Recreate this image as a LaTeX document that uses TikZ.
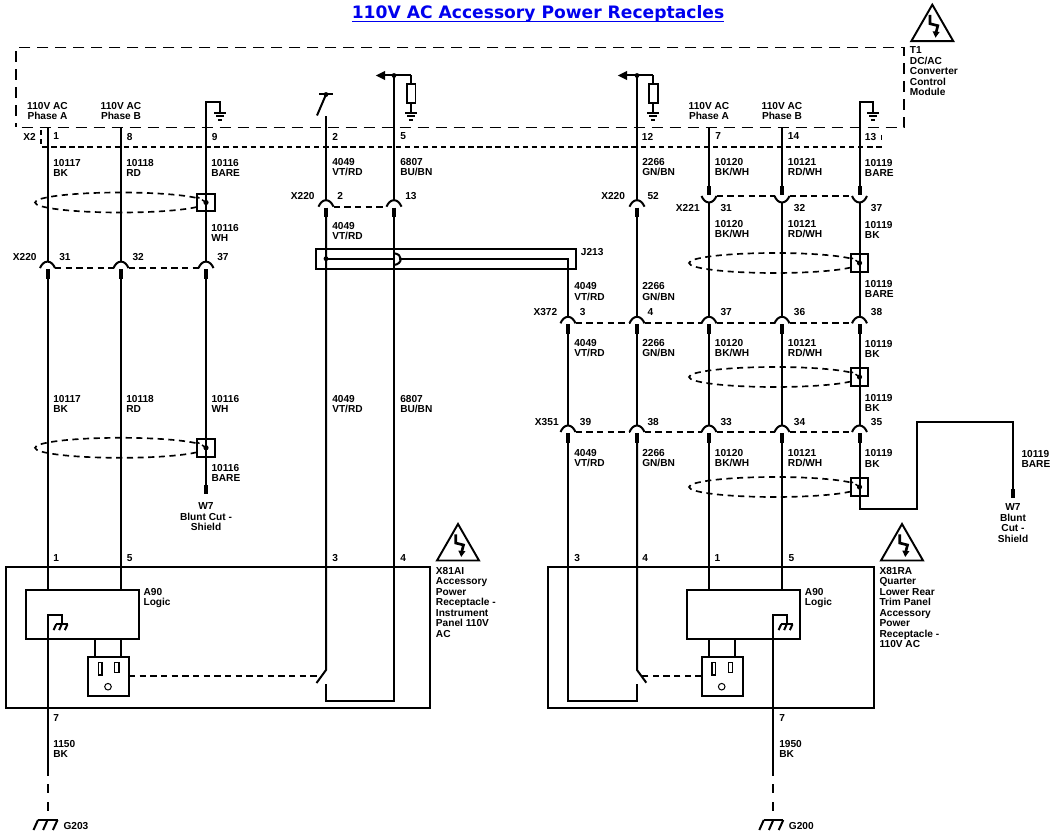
\documentclass[tikz,border=0pt]{standalone}
\usepackage{fontspec}
\setmainfont{Liberation Sans}
\newfontfamily\headfont{DejaVu Sans}
\usetikzlibrary{arrows.meta}
\definecolor{linkblue}{RGB}{0,0,238}
\tikzset{
  every pic/.style={yscale=-1},
  wire/.style={line width=1.5pt},
  stub/.style={line width=3pt},
  boxline/.style={line width=1.45pt},
  module/.style={line width=1.4pt,dash pattern=on 8.2pt off 5.3pt},
  tiedash/.style={line width=1.4pt,dash pattern=on 4.8pt off 3.2pt},
  rowdash/.style={line width=1.3pt,dash pattern=on 4pt off 2.8pt},
  shieldline/.style={line width=1.25pt,dash pattern=on 4.6pt off 3.4pt},
  knot/.style={draw,line width=1.45pt,fill=white,minimum size=13.2pt,inner sep=0pt},
  lbl/.style={anchor=north west,inner sep=0pt,align=left,font=\bfseries\fontsize{7.6}{7.85}\selectfont},
  lblc/.style={lbl,anchor=north,align=center},
  sockup/.pic={
    \draw[wire] (-7.5,0) .. controls (-6,-3.5) and (-3.5,-6.5) .. (0,-6.5) .. controls (3.5,-6.5) and (6,-3.5) .. (7.5,0);
    \draw[stub] (0,1) -- (0,10.5);
    \coordinate (-top) at (0,-6.5);
    \coordinate (-low) at (0,10);
    \coordinate (-w) at (-7.5,0);
    \coordinate (-e) at (7.5,0);
  },
  sockdown/.pic={
    \draw[wire] (-7.5,0) .. controls (-6,3.5) and (-3.5,6.5) .. (0,6.5) .. controls (3.5,6.5) and (6,3.5) .. (7.5,0);
    \draw[stub] (0,-9.5) -- (0,-0.5);
    \coordinate (-top) at (0,-9);
    \coordinate (-low) at (0,6.5);
    \coordinate (-w) at (-7.5,0);
    \coordinate (-e) at (7.5,0);
  },
  earth/.pic={
    \draw[wire] (-6,0) -- (6,0);
    \draw[wire] (-4,3.7) -- (4,3.7);
    \draw[wire] (-2,7.3) -- (2,7.3);
  },
  chassis/.pic={
    \draw[wire] (-9.5,0) -- (10,0);
    \draw[wire] (-9.5,0) -- (-14,10);
    \draw[wire] (0,0) -- (-4.4,10);
    \draw[wire] (10,0) -- (5.4,10);
  },
  warn/.pic={
    \draw[boxline,line join=miter] (0,0) -- (21,36.5) -- (-21,36.5) -- cycle;
    \draw[line width=2pt,-{Triangle[length=4.6pt,width=5pt]}] (-2.3,10.3) -- (-2.3,19) -- (5.5,21) -- (3.7,28) -- (3.2,33);
  },
  outlet/.pic={
    \draw[boxline] (0,0) rectangle (41,39.6);
    \draw[line width=.95pt] (10.3,6) rectangle (14,18.3);
    \draw[line width=.95pt] (26.6,6) rectangle (31,15.8);
    \draw[line width=.75pt] (20,30) circle (3.3);
  },
  knotmark/.pic={
    \draw[line width=1.1pt] (-8.5,-5.5) -- (-6.5,-4.2);
    \draw[line width=1.1pt] (-4,-2.8) -- (-1.5,-1);
    \fill (0,0) circle (2.6);
  }
}
\begin{document}
\begin{tikzpicture}[x=0.75pt,y=0.75pt,yscale=-1,xscale=1]
\useasboundingbox (0,0) rectangle (1052,837);

% Title
\node (title) [anchor=base,inner sep=0pt,text=linkblue,font=\headfont\bfseries\fontsize{12.85}{14}\selectfont] at (538,19) {\underline{\smash{110V AC Accessory Power Receptacles}}};

% Module outline
\coordinate (modA) at (21.7,127.5);
\coordinate (modB) at (904,127.5);
\coordinate (modC) at (904,47.5);
\coordinate (modD) at (16,47.5);
\coordinate (modE) at (16,127);
\draw[module] (modA) -- (modB) -- (modC) -- (modD) -- (modE);
\coordinate (rowA) at (41,130);
\coordinate (rowB) at (41,147);
\coordinate (rowC) at (882.7,147);
\coordinate (rowD) at (881.7,135);
\coordinate (rowE) at (881.7,140.5);
\draw[rowdash] (rowA) -- (rowB) -- (rowC);
\draw[line width=1.1pt] (rowD) -- (rowE);

% Shields
\draw[shieldline] (120.5,202.5) ellipse (85.5 and 10);
\draw[shieldline] (120.5,447.8) ellipse (85.5 and 10);
\draw[shieldline] (774.5,263) ellipse (85.5 and 10);
\draw[shieldline] (774.5,377) ellipse (85.5 and 10);
\draw[shieldline] (774.5,487) ellipse (85.5 and 10);
\node (kA) [knot] at (206,202.5) {};
\node (kB) [knot] at (206,447.8) {};
\node (kC) [knot] at (859.5,263) {};
\node (kD) [knot] at (859.5,377) {};
\node (kE) [knot] at (859.5,487) {};
\pic at (kA) {knotmark};
\pic at (kB) {knotmark};
\pic at (kC) {knotmark};
\pic at (kD) {knotmark};
\pic at (kE) {knotmark};

% Inline connectors
\pic (xaA) at (47.5,268.1) {sockup};
\pic (xaB) at (121,268.1) {sockup};
\pic (xaC) at (206,268.1) {sockup};
\pic (xbD) at (326,206.7) {sockup};
\pic (xbE) at (394,206.7) {sockup};
\pic (xbG) at (637,206.7) {sockup};
\pic (xeH) at (709,196) {sockdown};
\pic (xeI) at (782,196) {sockdown};
\pic (xeJ) at (859.5,196) {sockdown};
\pic (xcF) at (568,323.3) {sockup};
\pic (xcG) at (637,323.3) {sockup};
\pic (xcH) at (709,323.3) {sockup};
\pic (xcI) at (782,323.3) {sockup};
\pic (xcJ) at (859.5,323.3) {sockup};
\pic (xdF) at (568,432) {sockup};
\pic (xdG) at (637,432) {sockup};
\pic (xdH) at (709,432) {sockup};
\pic (xdI) at (782,432) {sockup};
\pic (xdJ) at (859.5,432) {sockup};
\draw[tiedash] (xaA-e) -- (xaB-w);
\draw[tiedash] (xaB-e) -- (xaC-w);
\draw[tiedash] (xbD-e) -- (xbE-w);
\draw[tiedash] (xeH-e) -- (xeI-w);
\draw[tiedash] (xeI-e) -- (xeJ-w);
\draw[tiedash] (xcF-e) -- (xcG-w);
\draw[tiedash] (xcG-e) -- (xcH-w);
\draw[tiedash] (xcH-e) -- (xcI-w);
\draw[tiedash] (xcI-e) -- (xcJ-w);
\draw[tiedash] (xdF-e) -- (xdG-w);
\draw[tiedash] (xdG-e) -- (xdH-w);
\draw[tiedash] (xdH-e) -- (xdI-w);
\draw[tiedash] (xdI-e) -- (xdJ-w);

% Receptacle boxes
\coordinate (boxLa) at (6,567);
\coordinate (boxLb) at (430,708.3);
\coordinate (boxRa) at (548.3,567);
\coordinate (boxRb) at (874,708.3);
\coordinate (logLa) at (26,590);
\coordinate (logLb) at (138.9,639.3);
\coordinate (logRa) at (687.3,590);
\coordinate (logRb) at (799.7,639.3);
\draw[boxline] (boxLa) rectangle (boxLb);
\draw[boxline] (boxRa) rectangle (boxRb);
\draw[boxline] (logLa) rectangle (logLb);
\draw[boxline] (logRa) rectangle (logRb);
\pic at (88,656.7) {outlet};
\pic at (701.7,656.7) {outlet};

% Wires, left side
\coordinate (wA) at (47.5,127.5);
\coordinate (wB) at (121,127.5);
\coordinate (wAb) at (47.5,590);
\coordinate (wBb) at (121,590);
\coordinate (wCa) at (206,102.5);
\coordinate (wCb) at (220,102.5);
\coordinate (wCc) at (220,112.7);
\coordinate (wCd) at (206,485);
\coordinate (wCe) at (206,494.3);
\draw[wire] (wA) -- (xaA-top);
\draw[wire] (xaA-low) -- (wAb);
\draw[wire] (wB) -- (xaB-top);
\draw[wire] (xaB-low) -- (wBb);
\draw[wire] (xaC-top) -- (wCa) -- (wCb) -- (wCc);
\pic at (wCc) {earth};
\draw[wire] (xaC-low) -- (wCd);
\draw[stub] (wCd) -- (wCe);

% Wires, switched pair
\coordinate (swA) at (326,94.5);
\coordinate (swB) at (317,115.5);
\coordinate (swC) at (319,94.5);
\coordinate (swD) at (333,94.5);
\coordinate (wDa) at (326,116.5);
\coordinate (wDb) at (326,670);
\coordinate (swE) at (316.5,683);
\coordinate (wDc) at (326,684);
\coordinate (wDd) at (326,701);
\coordinate (wEa) at (394,701);
\coordinate (wEb) at (394,75.5);
\coordinate (wEc) at (411,75.5);
\coordinate (arrA) at (375.7,75.5);
\draw[wire] (swC) -- (swD);
\draw[wire] (swA) -- (swB);
\fill (swA) circle (2.4);
\draw[wire] (wDa) -- (xbD-top);
\draw[wire] (xbD-low) -- (wDb) -- (swE);
\draw[wire] (wDc) -- (wDd) -- (wEa) -- (xbE-low);
\draw[wire] (xbE-top) -- (wEb);
\fill (wEb) circle (2.4);
\draw[wire,-{Triangle[length=7pt,width=6.4pt]}] (wEc) -- (arrA);
\coordinate (resAa) at (407,84);
\coordinate (resAb) at (415.5,103);
\coordinate (resAc) at (411,84);
\coordinate (resAd) at (411,103);
\coordinate (resAe) at (411,112.7);
\draw[wire] (wEc) -- (resAc);
\draw[boxline] (resAa) rectangle (resAb);
\draw[wire] (resAd) -- (resAe);
\pic at (resAe) {earth};

% J213
\coordinate (jaA) at (316,248.7);
\coordinate (jaB) at (575.7,269);
\coordinate (jaC) at (326,258.7);
\coordinate (jaD) at (394,258.7);
\coordinate (jaE) at (399,258.7);
\coordinate (jaF) at (568,258.7);
\coordinate (jaG) at (394,253.3);
\coordinate (jaH) at (394,265);
\draw[boxline] (jaA) rectangle (jaB);
\draw[wire] (jaC) -- (jaD);
\fill (jaC) circle (2.4);
\draw[wire] (jaG) .. controls (403,254) and (403,264) .. (jaH);
\draw[wire] (jaE) -- (jaF) -- (xcF-top);
\draw[wire] (xcF-low) -- (xdF-top);

% Wires, right side
\coordinate (wFa) at (568,701);
\coordinate (wFb) at (637,701);
\coordinate (wFc) at (637,684);
\coordinate (wGa) at (637,75.5);
\coordinate (wGb) at (653,75.5);
\coordinate (arrB) at (617.7,75.5);
\coordinate (wGc) at (637,670);
\coordinate (swF) at (646.3,682.7);
\draw[wire] (xdF-low) -- (wFa) -- (wFb) -- (wFc);
\draw[wire] (wGa) -- (xbG-top);
\fill (wGa) circle (2.4);
\draw[wire,-{Triangle[length=7pt,width=6.4pt]}] (wGb) -- (arrB);
\draw[wire] (xbG-low) -- (xcG-top);
\draw[wire] (xcG-low) -- (xdG-top);
\draw[wire] (xdG-low) -- (wGc) -- (swF);
\coordinate (resBa) at (649,84);
\coordinate (resBb) at (657.7,103);
\coordinate (resBc) at (653,84);
\coordinate (resBd) at (653,103);
\coordinate (resBe) at (653,112.7);
\draw[wire] (wGb) -- (resBc);
\draw[boxline] (resBa) rectangle (resBb);
\draw[wire] (resBd) -- (resBe);
\pic at (resBe) {earth};
\coordinate (wHa) at (709,127.5);
\coordinate (wHb) at (709,590);
\coordinate (wIa) at (782,127.5);
\coordinate (wIb) at (782,590);
\draw[wire] (wHa) -- (xeH-top);
\draw[wire] (xeH-low) -- (xcH-top);
\draw[wire] (xcH-low) -- (xdH-top);
\draw[wire] (xdH-low) -- (wHb);
\draw[wire] (wIa) -- (xeI-top);
\draw[wire] (xeI-low) -- (xcI-top);
\draw[wire] (xcI-low) -- (xdI-top);
\draw[wire] (xdI-low) -- (wIb);
\coordinate (wJa) at (859.5,102.5);
\coordinate (wJb) at (873.3,102.5);
\coordinate (wJc) at (873.3,112.7);
\coordinate (wJd) at (859.5,509);
\coordinate (wJe) at (916.7,509);
\coordinate (wJf) at (916.7,422.3);
\coordinate (wJg) at (1013,422.3);
\coordinate (wJh) at (1013,489.3);
\coordinate (wJi) at (1013,498.3);
\draw[wire] (xeJ-top) -- (wJa) -- (wJb) -- (wJc);
\pic at (wJc) {earth};
\draw[wire] (xeJ-low) -- (xcJ-top);
\draw[wire] (xcJ-low) -- (xdJ-top);
\draw[wire] (xdJ-low) -- (wJd) -- (wJe) -- (wJf) -- (wJg) -- (wJh);
\draw[stub] (wJh) -- (wJi);

% Outlet legs, switch ties and grounds
\coordinate (legAa) at (95,639.3);
\coordinate (legAb) at (95,656.7);
\coordinate (legBa) at (121,639.3);
\coordinate (legBb) at (121,656.7);
\coordinate (legCa) at (709,639.3);
\coordinate (legCb) at (709,656.7);
\coordinate (legDa) at (735,639.3);
\coordinate (legDb) at (735,656.7);
\draw[wire] (legAa) -- (legAb);
\draw[wire] (legBa) -- (legBb);
\draw[wire] (legCa) -- (legCb);
\draw[wire] (legDa) -- (legDb);
\coordinate (tieAa) at (129,676.1);
\coordinate (tieAb) at (321,676.1);
\coordinate (tieBa) at (701.7,676.1);
\coordinate (tieBb) at (641.7,676.1);
\draw[tiedash] (tieAa) -- (tieAb);
\draw[tiedash] (tieBa) -- (tieBb);
\coordinate (gndAa) at (61.7,624.3);
\coordinate (gndAb) at (61.7,615);
\coordinate (gndAc) at (47.5,615);
\coordinate (gndAd) at (47.5,776);
\coordinate (gndAe) at (47.5,784);
\coordinate (gndAf) at (47.5,811);
\draw[wire] (gndAa) -- (gndAb) -- (gndAc) -- (gndAd);
\draw[wire,dash pattern=on 7pt off 6.5pt] (gndAe) -- (gndAf);
\pic[scale=.58] at (gndAa) {chassis};
\pic at (47.5,820) {chassis};
\coordinate (gndBa) at (786.7,624.3);
\coordinate (gndBb) at (786.7,615);
\coordinate (gndBc) at (773.3,615);
\coordinate (gndBd) at (773.3,776);
\coordinate (gndBe) at (773.3,784);
\coordinate (gndBf) at (773.3,811);
\draw[wire] (gndBa) -- (gndBb) -- (gndBc) -- (gndBd);
\draw[wire,dash pattern=on 7pt off 6.5pt] (gndBe) -- (gndBf);
\pic[scale=.58] at (gndBa) {chassis};
\pic at (773.3,820) {chassis};

% Warning triangles
\pic at (932.3,4.7) {warn};
\pic at (458,524) {warn};
\pic at (902,524) {warn};

% Text Node
\node (tPhA) [lblc] at (47.5,101.7) {110V AC\\Phase A};
\node (tPhB) [lblc] at (121,101.7) {110V AC\\Phase B};
\node (tPhC) [lblc] at (709,101.7) {110V AC\\Phase A};
\node (tPhD) [lblc] at (782,101.7) {110V AC\\Phase B};
\node (tX2) [lbl] at (23,132.7) {X2};
\node (tPinA) [lbl] at (53,132.7) {1};
\node (tPinB) [lbl] at (126.7,132.7) {8};
\node (tPinC) [lbl] at (211.7,132.7) {9};
\node (tPinD) [lbl] at (332,132.7) {2};
\node (tPinE) [lbl] at (400,132.7) {5};
\node (tPinG) [lbl] at (641.7,132.7) {12};
\node (tPinH) [lbl] at (715,132.7) {7};
\node (tPinI) [lbl] at (787.7,132.7) {14};
\node (tPinJ) [lbl] at (864.7,132.7) {13};
\node (tModule) [lbl] at (909.7,46.7) {T1\\DC/AC\\Converter\\Control\\Module};
% Text Node
\node (tWa) [lbl] at (53,158.7) {10117\\BK};
\node (tWb) [lbl] at (126,158.7) {10118\\RD};
\node (tWc) [lbl] at (211,158.7) {10116\\BARE};
\node (tWd) [lbl] at (211,223.7) {10116\\WH};
\node (tWe) [lbl] at (332,157.7) {4049\\VT/RD};
\node (tWf) [lbl] at (400,157.7) {6807\\BU/BN};
\node (tWg) [lbl] at (332,221.7) {4049\\VT/RD};
\node (tWh) [lbl] at (642,157.7) {2266\\GN/BN};
\node (tWi) [lbl] at (714.7,157.7) {10120\\BK/WH};
\node (tWj) [lbl] at (787.7,157.7) {10121\\RD/WH};
\node (tWk) [lbl] at (864.7,158.7) {10119\\BARE};
\node (tWl) [lbl] at (714.7,219.7) {10120\\BK/WH};
\node (tWm) [lbl] at (787.7,219.7) {10121\\RD/WH};
\node (tWn) [lbl] at (864.7,220.7) {10119\\BK};
\node (tWo) [lbl] at (864.7,279.7) {10119\\BARE};
\node (tWp) [lbl] at (574,282.4) {4049\\VT/RD};
\node (tWq) [lbl] at (642,282.4) {2266\\GN/BN};
\node (tWr) [lbl] at (574,339) {4049\\VT/RD};
\node (tWs) [lbl] at (642,339) {2266\\GN/BN};
\node (tWt) [lbl] at (714.7,339) {10120\\BK/WH};
\node (tWu) [lbl] at (787.7,339) {10121\\RD/WH};
\node (tWv) [lbl] at (864.7,339.7) {10119\\BK};
\node (tWw) [lbl] at (864.7,393.7) {10119\\BK};
\node (tWx) [lbl] at (574,449) {4049\\VT/RD};
\node (tWy) [lbl] at (642,449) {2266\\GN/BN};
\node (tWz) [lbl] at (714.7,449) {10120\\BK/WH};
\node (tWaa) [lbl] at (787.7,449) {10121\\RD/WH};
\node (tWab) [lbl] at (864.7,449.5) {10119\\BK};
\node (tWac) [lbl] at (1021.3,449.7) {10119\\BARE};
\node (tWad) [lbl] at (53,394.7) {10117\\BK};
\node (tWae) [lbl] at (126,394.7) {10118\\RD};
\node (tWaf) [lbl] at (211.3,394.7) {10116\\WH};
\node (tWag) [lbl] at (332,394.7) {4049\\VT/RD};
\node (tWah) [lbl] at (400,394.7) {6807\\BU/BN};
\node (tWai) [lbl] at (211.3,463.7) {10116\\BARE};
\node (tWaj) [lbl] at (53,739.7) {1150\\BK};
\node (tWak) [lbl] at (779,739.7) {1950\\BK};
% Text Node
\node (tXa) [lbl] at (12.7,252.7) {X220};
\node (tXaA) [lbl] at (59,252.7) {31};
\node (tXaB) [lbl] at (132.3,252.7) {32};
\node (tXaC) [lbl] at (217,252.7) {37};
\node (tXb) [lbl] at (290.7,191.7) {X220};
\node (tXbD) [lbl] at (337,191.7) {2};
\node (tXbE) [lbl] at (405,191.7) {13};
\node (tXbb) [lbl] at (601,191.7) {X220};
\node (tXbG) [lbl] at (647.3,191.7) {52};
\node (tXe) [lbl] at (675.7,203.7) {X221};
\node (tXeH) [lbl] at (720.3,203.7) {31};
\node (tXeI) [lbl] at (793.7,203.7) {32};
\node (tXeJ) [lbl] at (870.7,203.7) {37};
\node (tXc) [lbl] at (533.3,308.4) {X372};
\node (tXcF) [lbl] at (579.7,308.4) {3};
\node (tXcG) [lbl] at (647.3,308.4) {4};
\node (tXcH) [lbl] at (720.3,308.4) {37};
\node (tXcI) [lbl] at (793.7,308.4) {36};
\node (tXcJ) [lbl] at (870.7,308.4) {38};
\node (tXd) [lbl] at (534.7,417.7) {X351};
\node (tXdF) [lbl] at (579.7,417.7) {39};
\node (tXdG) [lbl] at (647.3,417.7) {38};
\node (tXdH) [lbl] at (720.3,417.7) {33};
\node (tXdI) [lbl] at (793.7,417.7) {34};
\node (tXdJ) [lbl] at (870.7,417.7) {35};
\node (tJ) [lbl] at (580.7,247.7) {J213};
\node (tCutA) [lblc] at (206,502.4) {W7\\Blunt Cut -\\Shield};
\node (tCutB) [lblc] at (1013,503.7) {W7\\Blunt\\Cut -\\Shield};
% Text Node
\node (tBa) [lbl] at (53,554) {1};
\node (tBb) [lbl] at (126.7,554) {5};
\node (tBc) [lbl] at (332,554) {3};
\node (tBd) [lbl] at (400,554) {4};
\node (tBe) [lbl] at (574,554) {3};
\node (tBf) [lbl] at (642,554) {4};
\node (tBg) [lbl] at (714.3,554) {1};
\node (tBh) [lbl] at (788.3,554) {5};
\node (tBi) [lbl] at (53,714.7) {7};
\node (tBj) [lbl] at (779,714.7) {7};
\node (tLogA) [lbl] at (143.3,588) {A90\\Logic};
\node (tLogB) [lbl] at (804.7,588) {A90\\Logic};
\node (tRecA) [lbl] at (435.7,567) {X81AI\\Accessory\\Power\\Receptacle -\\Instrument\\Panel 110V\\AC};
\node (tRecB) [lbl] at (879.3,567) {X81RA\\Quarter\\Lower Rear\\Trim Panel\\Accessory\\Power\\Receptacle -\\110V AC};
\node (tGa) [lbl] at (63.3,822.4) {G203};
\node (tGb) [lbl] at (788.7,822.4) {G200};
\end{tikzpicture}
\end{document}
